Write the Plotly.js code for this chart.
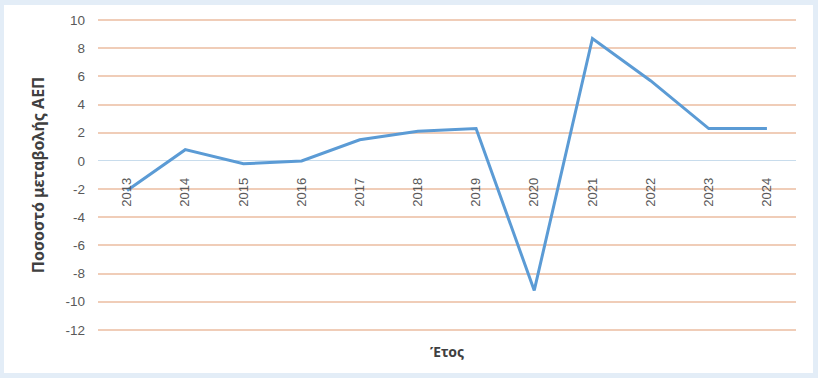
<!DOCTYPE html>
<html>
<head>
<meta charset="utf-8">
<script src="https://cdn.plot.ly/plotly-3.0.1.min.js"></script>
<style>
html,body{margin:0;padding:0;background:#e3edf7;width:818px;height:378px;overflow:hidden;}
#chart{position:absolute;left:4px;top:5px;width:809px;height:368px;background:#ffffff;}
</style>
</head>
<body>
<div id="chart"></div>
<script>
const years = ["2013","2014","2015","2016","2017","2018","2019","2020","2021","2022","2023","2024"];
const gdpChange = [-2.1, 0.8, -0.2, 0.0, 1.5, 2.1, 2.3, -9.2, 8.7, 5.7, 2.3, 2.3];
const yTicks = [10, 8, 6, 4, 2, 0, -2, -4, -6, -8, -10, -12];

const trace = {
  x: years,
  y: gdpChange,
  type: 'scatter',
  mode: 'lines',
  line: {color: '#5b9bd5', width: 3},
  hoverinfo: 'x+y'
};

const layout = {
  width: 809,
  height: 368,
  margin: {l: 94, r: 17, t: 14, b: 42},
  paper_bgcolor: '#ffffff',
  plot_bgcolor: '#ffffff',
  showlegend: false,
  xaxis: {
    type: 'category',
    range: [-0.5, 11.5],
    anchor: 'free',
    position: 0.5428,
    showgrid: false,
    zeroline: false,
    showline: false,
    tickangle: -90,
    ticks: 'outside',
    ticklen: 0,
    ticklabelstandoff: 10,
    tickfont: {family: 'Liberation Sans, Arial, sans-serif', size: 13, color: '#595959'}
  },
  yaxis: {
    range: [-12.08, 10.08],
    tickvals: yTicks,
    ticktext: yTicks.map(String),
    showgrid: true,
    gridcolor: '#f0cdb8',
    gridwidth: 2,
    zeroline: true,
    zerolinecolor: '#c8dcec',
    zerolinewidth: 1,
    showline: false,
    ticks: '',
    ticklabelstandoff: 12,
    tickfont: {family: 'Liberation Sans, Arial, sans-serif', size: 13.5, color: '#595959'},
    title: {
      text: 'Ποσοστό μεταβολής ΑΕΠ',
      font: {family: 'Noto Sans, Liberation Sans, sans-serif', size: 16, color: '#404040', weight: 'bold'},
      standoff: 16
    }
  },
  annotations: [{
    xref: 'paper', yref: 'paper',
    x: 0.5, y: -0.03,
    xanchor: 'center', yanchor: 'top',
    showarrow: false,
    text: '<b>Έτος</b>',
    font: {family: 'Noto Sans, Liberation Sans, sans-serif', size: 14, color: '#404040'}
  }]
};

Plotly.newPlot('chart', [trace], layout, {displayModeBar: false, staticPlot: true});
</script>
</body>
</html>
